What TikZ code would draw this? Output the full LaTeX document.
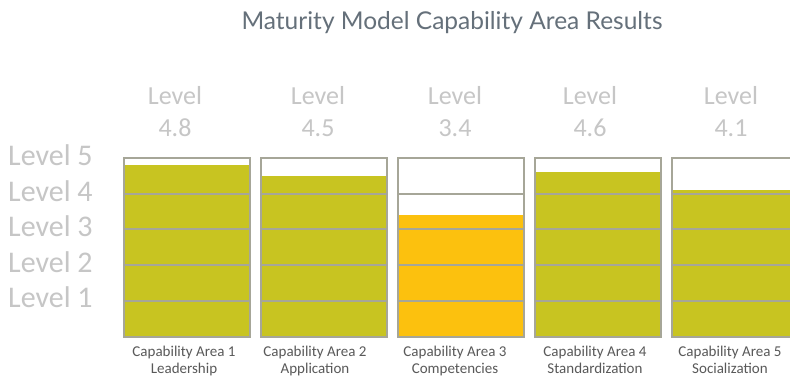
\documentclass[tikz,border=0pt]{standalone}
\usepackage{fontspec}
\setmainfont{Carlito}
\newfontfamily\titlefont{Lato}
\begin{document}
\begin{tikzpicture}[x=1pt,y=1pt,
  frame/.style={draw=boxgray,line width=1.8pt},
  divider/.style={draw=boxgray,line width=1.8pt},
  toplbl/.style={font=\fontsize{26}{26}\selectfont,text=lightgray2,anchor=base,inner sep=0pt},
  sidelbl/.style={font=\fontsize{30}{30}\selectfont,text=lightgray2,anchor=base west,inner sep=0pt},
  botlbl/.style={font=\fontsize{15}{15}\selectfont,text=darkgray2,anchor=base,inner sep=0pt}]
\definecolor{boxgray}{HTML}{A6A698}
\definecolor{lightgray2}{HTML}{C6C6C6}
\definecolor{darkgray2}{HTML}{595959}
\definecolor{titlegray}{HTML}{65707A}
\definecolor{olive}{HTML}{C8C421}
\definecolor{amber}{HTML}{FCC10E}
\clip (0,0) rectangle (790,377);
\fill[white] (0,0) rectangle (790,377);
% title
\node[font=\titlefont\fontsize{24.5}{24.5}\selectfont,text=titlegray,anchor=base,inner sep=0pt] (title) at (452,347) {Maturity Model Capability Area Results};
% side labels
\node[sidelbl] (s5) at (8,211) {Level 5};
\node[sidelbl] (s4) at (8,175.5) {Level 4};
\node[sidelbl] (s3) at (8,140) {Level 3};
\node[sidelbl] (s2) at (8,104.5) {Level 2};
\node[sidelbl] (s1) at (8,69) {Level 1};
% bars
\foreach \i/\v/\c/\tx/\bx/\la/\lb in {0/4.8/olive/175/184/Capability Area 1/Leadership,
                                     1/4.5/olive/318/315/Capability Area 2/Application,
                                     2/3.4/amber/455/455/Capability Area 3/Competencies,
                                     3/4.6/olive/590/595/Capability Area 4/Standardization,
                                     4/4.1/olive/731/730/Capability Area 5/Socialization}{
  \pgfmathsetmacro{\xl}{124+137*\i}
  \pgfmathsetmacro{\xr}{\xl+126}
  \pgfmathsetmacro{\yt}{40+\v*35.8}
  \fill[\c] (\xl,40) rectangle (\xr,\yt);
  \foreach \yy in {76,112,148,183}{
    \draw[divider] (\xl,\yy) -- (\xr,\yy);
  }
  \draw[frame] (\xl,40) rectangle (\xr,219);
  \node[toplbl] (lv\i) at (\tx,272) {Level};
  \node[toplbl] (val\i) at (\tx,240) {\v};
  \node[botlbl] (ca\i) at (\bx,20) {\la};
  \node[botlbl] (nm\i) at (\bx,3.5) {\lb};
}
\end{tikzpicture}
\end{document}
